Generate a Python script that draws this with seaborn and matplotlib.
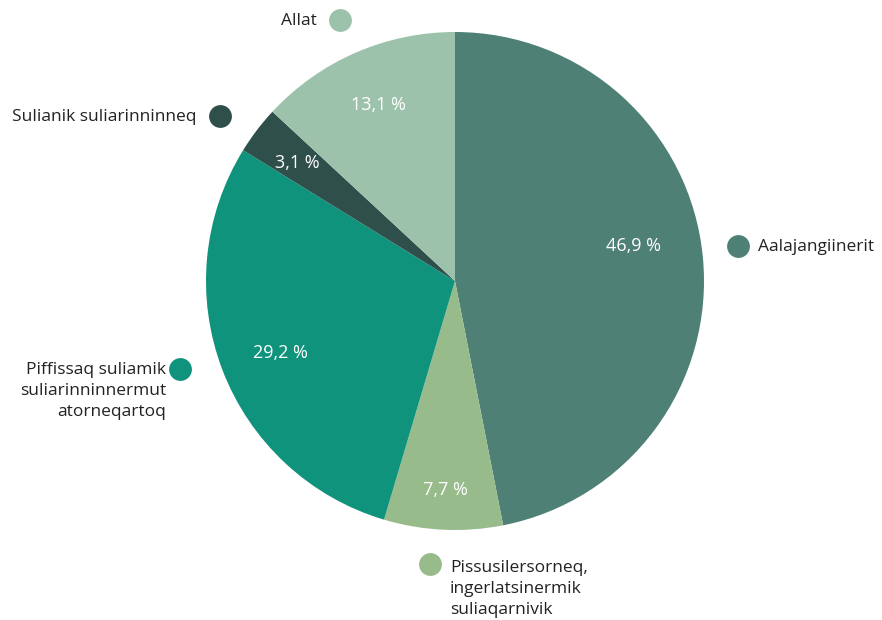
import numpy as np
import matplotlib
matplotlib.use('Agg')
import matplotlib.pyplot as plt
import seaborn as sns

labels = ['Aalajangiinerit',
          'Pissusilersorneq,\ningerlatsinermik\nsuliaqarnivik',
          'Piffissaq suliamik\nsuliarinninnermut\natorneqartoq',
          'Sulianik suliarinninneq',
          'Allat']
shares = [46.9, 7.7, 29.2, 3.1, 13.1]
pct_text = ['46,9 %', '7,7 %', '29,2 %', '3,1 %', '13,1 %']
colors = ['#4e8075', '#97bb8a', '#10937d', '#2f4f4b', '#9dc2ac']

sns.set_style('white')
plt.rcParams['font.family'] = ['Open Sans', 'DejaVu Sans']

W, H = 882, 620
fig = plt.figure(figsize=(W / 100, H / 100), dpi=100)

# pie centre (455, 281) px, radius 249 px
cx, cy, r = 455, 281, 249
ax = fig.add_axes([(cx - r) / W, (H - cy - r) / H, 2 * r / W, 2 * r / H])
wedges, _ = ax.pie(shares, colors=colors, startangle=90, counterclock=False,
                   wedgeprops=dict(linewidth=0))
ax.set_aspect('equal')
ax.set_xlim(-1, 1)
ax.set_ylim(-1, 1)

# percentage labels inside wedges (distance from centre, angle nudge)
pct_dist = [0.73, 0.84, 0.76, 0.79, 0.77]
pct_nudge = [5.5, 0, 1.5, 0.5, 0]
for w, t, d, n in zip(wedges, pct_text, pct_dist, pct_nudge):
    ang = np.deg2rad((w.theta1 + w.theta2) / 2 + n)
    ax.text(d * np.cos(ang), d * np.sin(ang), t, color='white', fontsize=13,
            ha='center', va='center')

# overlay in pixel coords for outside labels with markers
ov = fig.add_axes([0, 0, 1, 1])
ov.set_xlim(0, W)
ov.set_ylim(H, 0)
ov.axis('off')

marker_pos = [(738, 246), (430, 564), (180, 369), (220, 116), (340, 20)]
text_pos = [(758, 247, 'left'), (450, 589, 'left'), (166, 391, 'right'),
            (197, 117, 'right'), (317, 21, 'right')]
for (mx, my), (tx, ty, ha), lab, c in zip(marker_pos, text_pos, labels, colors):
    ov.scatter([mx], [my], s=270, color=c, linewidths=0)
    ov.text(tx, ty, lab, ha=ha, va='center', fontsize=12.5, color='#222222',
            linespacing=1.38, multialignment=ha)

fig.savefig('out.png', dpi=100)
